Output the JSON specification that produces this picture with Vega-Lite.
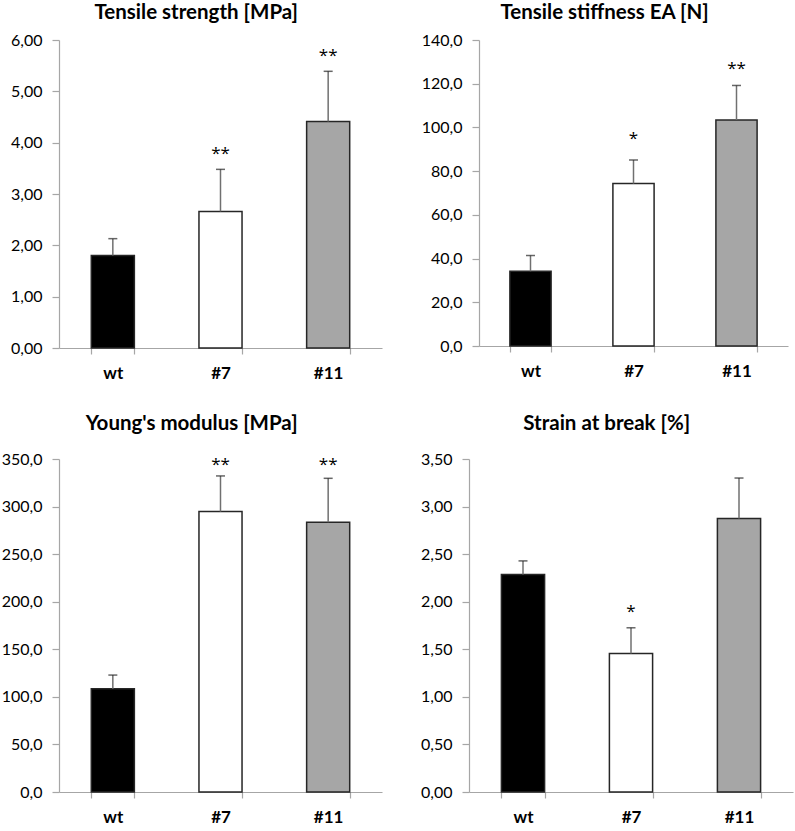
{
  "$schema": "https://vega.github.io/schema/vega-lite/v6.json",
  "padding": {"left": 1, "top": 2, "right": 2, "bottom": 2},
  "background": "white",
  "config": {
    "locale": {"number": {"decimal": ",", "thousands": ".", "grouping": [3], "currency": ["", " €"]}},
    "view": {"stroke": null},
    "font": "Lato",
    "title": {"font": "Lato", "fontSize": 20.5, "fontWeight": "bold", "color": "#000000", "frame": "bounds", "anchor": "middle", "offset": 9},
    "axisY": {"grid": false, "domainColor": "#a6a6a6", "tickColor": "#a6a6a6", "tickSize": 7, "labelPadding": 10, "labelFont": "Lato", "labelFontSize": 16, "labelColor": "#000000", "title": null, "domainWidth": 1.2, "tickWidth": 1.2},
    "axisX": {"grid": false, "domainColor": "#a6a6a6", "tickColor": "#a6a6a6", "tickSize": 6, "tickBand": "extent", "labelPadding": 11, "labelFont": "Lato", "labelFontSize": 17, "labelFontWeight": "bold", "labelColor": "#000000", "labelAngle": 0, "title": null, "domainWidth": 1.2, "tickWidth": 1.2}
  },
  "datasets": {
    "d": [
      {"panel": "ts", "group": "wt", "value": 1.80, "err_top": 2.13, "sig": "", "sig_y": null},
      {"panel": "ts", "group": "#7", "value": 2.66, "err_top": 3.48, "sig": "**", "sig_y": 3.87},
      {"panel": "ts", "group": "#11", "value": 4.41, "err_top": 5.39, "sig": "**", "sig_y": 5.79},
      {"panel": "st", "group": "wt", "value": 34.2, "err_top": 41.4, "sig": "", "sig_y": null},
      {"panel": "st", "group": "#7", "value": 74.3, "err_top": 85.1, "sig": "*", "sig_y": 97.0},
      {"panel": "st", "group": "#11", "value": 103.4, "err_top": 119.2, "sig": "**", "sig_y": 128.8},
      {"panel": "ym", "group": "wt", "value": 108.5, "err_top": 122.9, "sig": "", "sig_y": null},
      {"panel": "ym", "group": "#7", "value": 294.7, "err_top": 332.2, "sig": "**", "sig_y": 348.5},
      {"panel": "ym", "group": "#11", "value": 283.5, "err_top": 329.7, "sig": "**", "sig_y": 348.5},
      {"panel": "sb", "group": "wt", "value": 2.286, "err_top": 2.429, "sig": "", "sig_y": null},
      {"panel": "sb", "group": "#7", "value": 1.456, "err_top": 1.726, "sig": "*", "sig_y": 1.94},
      {"panel": "sb", "group": "#11", "value": 2.874, "err_top": 3.30, "sig": "", "sig_y": null}
    ]
  },
  "vconcat": [
    {
      "hconcat": [
        {
          "width": 323, "height": 308,
          "title": {"text": "Tensile strength [MPa]"},
          "data": {"name": "d"},
          "transform": [{"filter": "datum.panel == 'ts'"}],
          "encoding": {
            "x": {"field": "group", "type": "nominal", "sort": ["wt", "#7", "#11"], "scale": {"paddingInner": 0.6, "paddingOuter": 0.3}}
          },
          "layer": [
            {"mark": {"type": "bar", "stroke": "#262626", "strokeWidth": 1.5}, "encoding": {"y": {"field": "value", "type": "quantitative", "scale": {"domain": [0, 6], "nice": false}, "axis": {"values": [0, 1, 2, 3, 4, 5, 6], "format": ".2f"}}, "fill": {"field": "group", "type": "nominal", "scale": {"domain": ["wt", "#7", "#11"], "range": ["#000000", "#ffffff", "#a6a6a6"]}, "legend": null}}},
            {"mark": {"type": "rule", "color": "#707070", "strokeWidth": 1.5}, "encoding": {"y": {"field": "value", "type": "quantitative"}, "y2": {"field": "err_top"}}},
            {"mark": {"type": "tick", "color": "#262626", "thickness": 1.5, "size": 9}, "encoding": {"y": {"field": "err_top", "type": "quantitative"}}},
            {"mark": {"type": "text", "font": "Open Sans", "fontSize": 17, "baseline": "middle", "dy": 5, "color": "#000000"}, "encoding": {"y": {"field": "sig_y", "type": "quantitative"}, "text": {"field": "sig"}}}
          ]
        },
        {
          "width": 309, "height": 306,
          "title": {"text": "Tensile stiffness EA [N]"},
          "data": {"name": "d"},
          "transform": [{"filter": "datum.panel == 'st'"}],
          "encoding": {
            "x": {"field": "group", "type": "nominal", "sort": ["wt", "#7", "#11"], "scale": {"paddingInner": 0.6, "paddingOuter": 0.3}}
          },
          "layer": [
            {"mark": {"type": "bar", "stroke": "#262626", "strokeWidth": 1.5}, "encoding": {"y": {"field": "value", "type": "quantitative", "scale": {"domain": [0, 140], "nice": false}, "axis": {"values": [0, 20, 40, 60, 80, 100, 120, 140], "format": ".1f"}}, "fill": {"field": "group", "type": "nominal", "scale": {"domain": ["wt", "#7", "#11"], "range": ["#000000", "#ffffff", "#a6a6a6"]}, "legend": null}}},
            {"mark": {"type": "rule", "color": "#707070", "strokeWidth": 1.5}, "encoding": {"y": {"field": "value", "type": "quantitative"}, "y2": {"field": "err_top"}}},
            {"mark": {"type": "tick", "color": "#262626", "thickness": 1.5, "size": 9}, "encoding": {"y": {"field": "err_top", "type": "quantitative"}}},
            {"mark": {"type": "text", "font": "Open Sans", "fontSize": 17, "baseline": "middle", "dy": 5, "color": "#000000"}, "encoding": {"y": {"field": "sig_y", "type": "quantitative"}, "text": {"field": "sig"}}}
          ]
        }
      ],
      "spacing": 39,
      "resolve": {"scale": {"x": "independent", "y": "independent"}}
    },
    {
      "hconcat": [
        {
          "width": 323, "height": 333,
          "title": {"text": "Young's modulus [MPa]", "offset": 17},
          "data": {"name": "d"},
          "transform": [{"filter": "datum.panel == 'ym'"}],
          "encoding": {
            "x": {"field": "group", "type": "nominal", "sort": ["wt", "#7", "#11"], "scale": {"paddingInner": 0.6, "paddingOuter": 0.3}}
          },
          "layer": [
            {"mark": {"type": "bar", "stroke": "#262626", "strokeWidth": 1.5}, "encoding": {"y": {"field": "value", "type": "quantitative", "scale": {"domain": [0, 350], "nice": false}, "axis": {"values": [0, 50, 100, 150, 200, 250, 300, 350], "format": ".1f"}}, "fill": {"field": "group", "type": "nominal", "scale": {"domain": ["wt", "#7", "#11"], "range": ["#000000", "#ffffff", "#a6a6a6"]}, "legend": null}}},
            {"mark": {"type": "rule", "color": "#707070", "strokeWidth": 1.5}, "encoding": {"y": {"field": "value", "type": "quantitative"}, "y2": {"field": "err_top"}}},
            {"mark": {"type": "tick", "color": "#262626", "thickness": 1.5, "size": 9}, "encoding": {"y": {"field": "err_top", "type": "quantitative"}}},
            {"mark": {"type": "text", "font": "Open Sans", "fontSize": 17, "baseline": "middle", "dy": 5, "color": "#000000"}, "encoding": {"y": {"field": "sig_y", "type": "quantitative"}, "text": {"field": "sig"}}}
          ]
        },
        {
          "width": 324, "height": 333,
          "title": {"text": "Strain at break [%]", "offset": 17},
          "data": {"name": "d"},
          "transform": [{"filter": "datum.panel == 'sb'"}],
          "encoding": {
            "x": {"field": "group", "type": "nominal", "sort": ["wt", "#7", "#11"], "scale": {"paddingInner": 0.6, "paddingOuter": 0.3}}
          },
          "layer": [
            {"mark": {"type": "bar", "stroke": "#262626", "strokeWidth": 1.5}, "encoding": {"y": {"field": "value", "type": "quantitative", "scale": {"domain": [0, 3.5], "nice": false}, "axis": {"values": [0, 0.5, 1, 1.5, 2, 2.5, 3, 3.5], "format": ".2f"}}, "fill": {"field": "group", "type": "nominal", "scale": {"domain": ["wt", "#7", "#11"], "range": ["#000000", "#ffffff", "#a6a6a6"]}, "legend": null}}},
            {"mark": {"type": "rule", "color": "#707070", "strokeWidth": 1.5}, "encoding": {"y": {"field": "value", "type": "quantitative"}, "y2": {"field": "err_top"}}},
            {"mark": {"type": "tick", "color": "#262626", "thickness": 1.5, "size": 9}, "encoding": {"y": {"field": "err_top", "type": "quantitative"}}},
            {"mark": {"type": "text", "font": "Open Sans", "fontSize": 17, "baseline": "middle", "dy": 5, "color": "#000000"}, "encoding": {"y": {"field": "sig_y", "type": "quantitative"}, "text": {"field": "sig"}}}
          ]
        }
      ],
      "spacing": 38,
      "resolve": {"scale": {"x": "independent", "y": "independent"}}
    }
  ],
  "spacing": 32,
  "resolve": {"scale": {"x": "independent", "y": "independent"}}
}
